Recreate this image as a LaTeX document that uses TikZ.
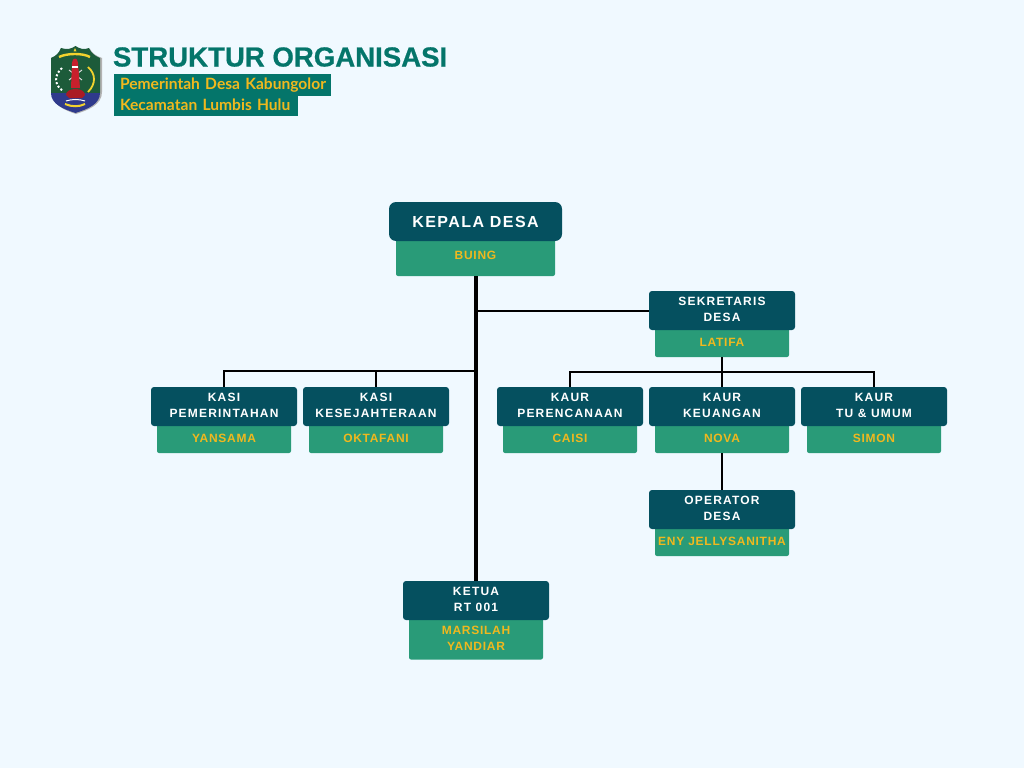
\documentclass[tikz,border=0pt]{standalone}
\usepackage{fontspec}
\setmainfont{Liberation Sans}
\newfontfamily\titlefont[BoldFeatures={FakeBold=0.6}]{Liberation Sans}
\newfontfamily\bannerfont{Lato}
\newfontfamily\bigfont[LetterSpace=9]{Liberation Sans}
\newfontfamily\boxfont[LetterSpace=10]{Liberation Sans}
\newfontfamily\namefont[LetterSpace=6]{Liberation Sans}
\usetikzlibrary{positioning}
\definecolor{bgblue}{HTML}{F0F9FF}
\definecolor{headteal}{HTML}{05505F}
\definecolor{namegreen}{HTML}{299B78}
\definecolor{nameyellow}{HTML}{F0B81E}
\definecolor{titlegreen}{HTML}{04756A}
\definecolor{shieldgreen}{HTML}{1D5B3A}
\definecolor{shieldblue}{HTML}{2F3A8C}
\definecolor{towerred}{HTML}{C8202C}
\definecolor{logoyellow}{HTML}{F2D22E}
\tikzset{
  headbox/.style={fill=headteal,text=white,rounded corners=3pt,minimum width=146pt,minimum height=39pt,inner sep=0pt,outer sep=0pt,align=center,text depth=2pt,font=\boxfont\bfseries\fontsize{12}{16}\selectfont},
  namebox/.style={fill=namegreen,text=nameyellow,rounded corners=2pt,minimum width=134pt,minimum height=30pt,inner sep=0pt,outer sep=0pt,align=center,font=\namefont\bfseries\fontsize{12}{16.5}\selectfont},
  banner/.style={fill=titlegreen,text=nameyellow,inner sep=0pt,outer sep=0pt,anchor=north west,font=\bannerfont\bfseries\fontsize{15.6}{16}\selectfont},
  link/.style={draw=black,line width=2pt},
  trunk/.style={draw=black,line width=3.2pt}
}
\begin{document}
\begin{tikzpicture}[x=1pt,y=-1pt]
\useasboundingbox[fill=bgblue] (0,0) rectangle (1024,768);
% logo
\fill[gray!60] (52,58) .. controls (57,56) and (60,53) .. (62,49) .. controls (68,51) and (72,50) .. (76,47) .. controls (80,50) and (84,51) .. (90,49) .. controls (92,53) and (96,56) .. (102,58)--(102,92) .. controls (102,105) and (88,110) .. (76,114) .. controls (64,110) and (52,105) .. (52,92)--cycle;
\fill[shieldgreen] (51,58) .. controls (56,56) and (59,53) .. (61,48) .. controls (67,50) and (71,49) .. (75.5,46) .. controls (80,49) and (84,50) .. (89,48) .. controls (91,53) and (95,56) .. (100,58)--(100,93)--(51,93)--cycle;
\fill[shieldblue] (51,93)--(100,93) .. controls (100,104) and (88,109) .. (75.5,113) .. controls (63,109) and (51,104) .. (51,93)--cycle;
\fill[logoyellow] (75,48)--(76.5,51.5)--(73.5,51.5)--cycle;
\draw[logoyellow,line width=2.4pt] (59,57) .. controls (67,53) and (83,53) .. (90,57);
\draw[logoyellow,line width=1.8pt] (88,67) .. controls (96,74) and (96,84) .. (88,92);
\draw[white,line width=2pt,dotted] (62,68) .. controls (54,75) and (54,85) .. (63,91);
\draw[white!70!gray,line width=1pt] (69,70)--(82,80) (82,70)--(69,80);
\fill[towerred] (72,63) .. controls (72,57) and (78,57) .. (78,63)--(80,88)--(71,88)--cycle;
\fill[white] (72,66) rectangle (78,68);
\fill[towerred!85!black] (66,95) .. controls (66,87) and (85,87) .. (85,95)--(82,98)--(69,98)--cycle;
\draw[white,line width=1pt] (66,101) .. controls (72,99) and (79,99) .. (85,101);
\draw[logoyellow,line width=2pt] (65,104) .. controls (72,107) and (79,107) .. (85,104);
% title
\node[anchor=west,inner sep=0pt,outer sep=0pt,text=titlegreen,font=\titlefont\bfseries\fontsize{27.6}{30}\selectfont] (title) at (113,57) {STRUKTUR ORGANISASI};
\node[banner,minimum width=217pt,minimum height=22pt,text width=211pt,text depth=3pt] (desa) at (114,74) {\hspace*{3pt}Pemerintah Desa Kabungolor};
\node[banner,minimum width=184pt,minimum height=20pt,text width=178pt,text depth=3pt] (kecamatan) at (114,96) {\hspace*{3pt}Kecamatan Lumbis Hulu};
% kepala
\node[namebox,minimum width=159pt,minimum height=38pt,text depth=3pt] (kepalaname) at (475.5,257) {BUING};
\node[headbox,above=-3pt of kepalaname,minimum width=173pt,rounded corners=7pt,text depth=0pt,font=\bigfont\bfseries\fontsize{16}{18}\selectfont] (kepala) {KEPALA DESA};
% sekretaris
\node[namebox] (sekretarisname) at (722,342) {LATIFA};
\node[headbox,above=-3pt of sekretarisname] (sekretaris) {SEKRETARIS\\DESA};
% kasi
\node[namebox] (kasi1name) at (224,438) {YANSAMA};
\node[headbox,above=-3pt of kasi1name] (kasi1) {KASI\\PEMERINTAHAN};
\node[namebox] (kasi2name) at (376,438) {OKTAFANI};
\node[headbox,above=-3pt of kasi2name] (kasi2) {KASI\\KESEJAHTERAAN};
% kaur
\node[namebox] (kaur1name) at (570,438) {CAISI};
\node[headbox,above=-3pt of kaur1name] (kaur1) {KAUR\\PERENCANAAN};
\node[namebox] (kaur2name) at (722,438) {NOVA};
\node[headbox,above=-3pt of kaur2name] (kaur2) {KAUR\\KEUANGAN};
\node[namebox] (kaur3name) at (874,438) {SIMON};
\node[headbox,above=-3pt of kaur3name] (kaur3) {KAUR\\TU \& UMUM};
% operator
\node[namebox] (operatorname) at (722,541) {ENY JELLYSANITHA};
\node[headbox,above=-3pt of operatorname] (operator) {OPERATOR\\DESA};
% ketua
\node[namebox,minimum height=42pt] (ketuaname) at (476,638.5) {MARSILAH\\YANDIAR};
\node[headbox,above=-2.5pt of ketuaname] (ketua) {KETUA\\RT 001};
% lines
\coordinate (kasibus) at (476,371);
\coordinate (kaurbus) at (722,371.5);
\draw[trunk] (kepalaname.south -| ketua.north) -- (ketua.north);
\draw[link] (sekretaris.west) -- (sekretaris.west -| ketua.north);
\draw[link] (kasibus) -| (kasi1.north);
\draw[link] (kasibus -| kasi2.north) -- (kasi2.north);
\draw[link] (sekretarisname.south) -- (kaur2.north);
\draw[link] (kaur1.north) |- (kaurbus) -| (kaur3.north);
\draw[link] (kaur2name.south) -- (operator.north);
\end{tikzpicture}
\end{document}
